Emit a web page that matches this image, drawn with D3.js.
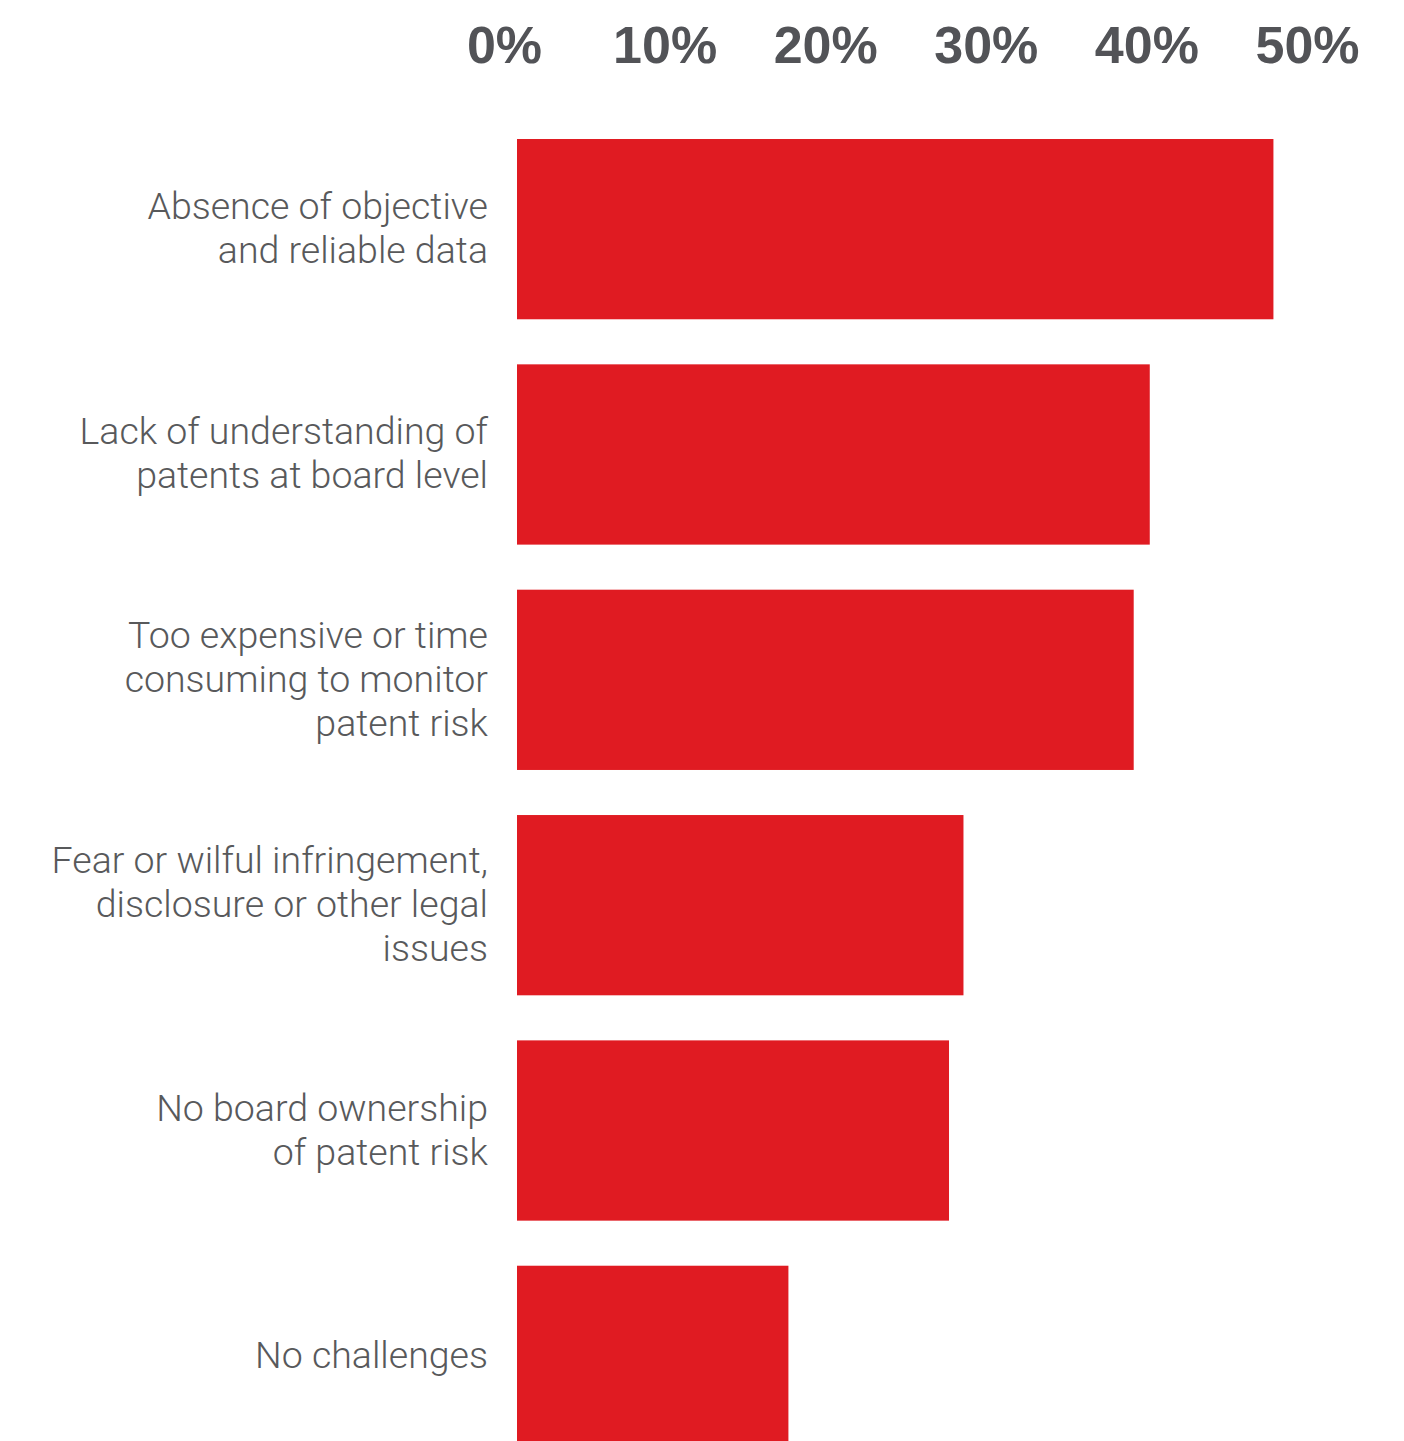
<!DOCTYPE html>
<html lang="en">
<head>
<meta charset="UTF-8">
<title>Patent risk challenges</title>
<script src="https://d3js.org/d3.v7.min.js"></script>
<style>
  html, body { margin: 0; padding: 0; background: #fff; }
  #chart svg { display: block; }
  .tick-label { font-family: "Liberation Sans", Arial, sans-serif; font-weight: bold; font-size: 52px; fill: #525357; }
  .cat-label { font-family: Roboto, "Open Sans", sans-serif; font-weight: 300; font-size: 37.5px; fill: #58595b; }
</style>
</head>
<body>
<div id="chart"></div>
<script>
// data
var categories = [
  ["Absence of objective", "and reliable data"],
  ["Lack of understanding of", "patents at board level"],
  ["Too expensive or time", "consuming to monitor", "patent risk"],
  ["Fear or wilful infringement,", "disclosure or other legal", "issues"],
  ["No board ownership", "of patent risk"],
  ["No challenges"]
];
var values = [0.471, 0.394, 0.384, 0.278, 0.269, 0.169];
var tickValues = [0, 0.1, 0.2, 0.3, 0.4, 0.5];

var width = 1404, height = 1441;
var barColor = "#e01b22";

var svg = d3.select("#chart").append("svg")
    .attr("width", width)
    .attr("height", height);

var x = d3.scaleLinear()
    .domain([0, 0.5])
    .range([517, 1320]);

var y = d3.scaleBand()
    .domain(d3.range(categories.length))
    .range([139, 1446])
    .paddingInner(0.2)
    .paddingOuter(0);

// top axis labels, no domain line or tick marks
var xAxis = d3.axisTop(x)
    .tickValues(tickValues)
    .tickSize(0)
    .tickPadding(0)
    .tickFormat(d3.format(".0%"));

var axisG = svg.append("g")
    .attr("transform", "translate(0, 63)")
    .call(xAxis);
axisG.select(".domain").remove();
axisG.selectAll("text")
    .attr("class", "tick-label")
    .attr("dx", -13)
    .attr("dy", 0)
    .attr("font-size", null)
    .attr("font-family", null)
    .attr("fill", null);

// bars
svg.selectAll("rect.bar")
    .data(values)
    .enter()
    .append("rect")
    .attr("class", "bar")
    .attr("x", x(0))
    .attr("y", (d, i) => y(i))
    .attr("width", d => x(d) - x(0))
    .attr("height", y.bandwidth())
    .attr("fill", barColor);

// category labels, right aligned, centered on bars
var lineH = 44;
var labels = svg.selectAll("text.cat-label")
    .data(categories)
    .enter()
    .append("text")
    .attr("class", "cat-label")
    .attr("text-anchor", "end");

labels.each(function(lines, i) {
    var cy = y(i) + y.bandwidth() / 2;
    var t = d3.select(this);
    lines.forEach(function(line, k) {
        t.append("tspan")
            .attr("x", 488)
            .attr("y", cy + (k - (lines.length - 1) / 2) * lineH + 12)
            .text(line);
    });
});
</script>
</body>
</html>
